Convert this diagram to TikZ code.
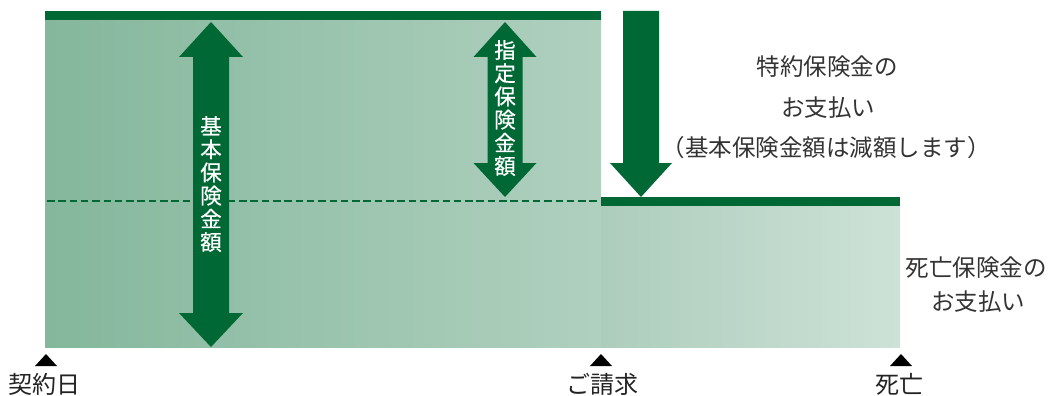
\documentclass[tikz,border=0pt]{standalone}
\usepackage{fontspec}
\setmainfont{Noto Sans CJK JP}
\newfontfamily\arrowfont[FakeBold=0.5]{Noto Sans CJK JP}
\begin{document}
\begin{tikzpicture}[x=1pt,y=-1pt,
  dkgreen/.style={fill=barcol,draw=none},
  vtext/.style={text=white,font=\arrowfont\fontsize{21.5}{23.2}\selectfont,align=center,inner sep=0pt},
  rtext/.style={text=txtcol,font=\fontsize{23.5}{38}\selectfont,align=center,inner sep=0pt},
  blabel/.style={text=lblcol,font=\fontsize{24}{28}\selectfont,inner sep=0pt},
  marker/.style={fill=black,draw=none}]
\definecolor{barcol}{RGB}{0,104,52}
\definecolor{txtcol}{RGB}{51,51,51}
\definecolor{lblcol}{RGB}{34,34,34}
\definecolor{gA}{RGB}{132,183,156}
\definecolor{gB}{RGB}{176,208,191}
\definecolor{gC}{RGB}{173,205,188}
\definecolor{gD}{RGB}{205,226,215}
\useasboundingbox (0,0) rectangle (1052,396);
% fills
\fill[left color=gA,right color=gB] (45,20) rectangle (601,347);
\fill[left color=gC,right color=gD] (601,206) rectangle (900,347);
% bars
\fill[dkgreen] (45,11) rectangle (601,20);
\fill[dkgreen] (601,197) rectangle (900,206);
% dashed line
\draw[barcol,line width=2.8pt,dash pattern=on 7.5pt off 3.8pt] (47,201) -- (601,201);
% big double arrow
\fill[dkgreen] (211,22) -- (243,57) -- (229,57) -- (229,313) -- (243,313) -- (211,347)
  -- (179,313) -- (193,313) -- (193,57) -- (179,57) -- cycle;
% small double arrow
\fill[dkgreen] (505,22) -- (536.5,57) -- (522.5,57) -- (522.5,163) -- (536.5,163) -- (505,197)
  -- (473.5,163) -- (487.5,163) -- (487.5,57) -- (473.5,57) -- cycle;
% down arrow
\fill[dkgreen] (623,11) -- (659,11) -- (659,163) -- (672,163) -- (641,197) -- (610,163) -- (623,163) -- cycle;
% vertical texts
\node[vtext] (kihon) at (211,184) {基\\本\\保\\険\\金\\額};
\node[vtext] (shitei) at (505,108) {指\\定\\保\\険\\金\\額};
% right texts
\node[rtext] (t1) at (827,67) {特約保険金の};
\node[rtext] (t2) at (828,108) {お支払い};
\node[rtext] (t3) at (826,148) {（基本保険金額は減額します）};
\node[rtext] (d1) at (976,268) {死亡保険金の};
\node[rtext] (d2) at (978,302) {お支払い};
% markers
\fill[marker] (46,354) -- (57,366) -- (35,366) -- cycle;
\fill[marker] (601,354) -- (612,366) -- (590,366) -- cycle;
\fill[marker] (901,354) -- (912,366) -- (890,366) -- cycle;
\node[blabel] (keiyaku) at (45,384) {契約日};
\node[blabel] (seikyu) at (602,384) {ご請求};
\node[blabel] (shibo) at (899,384) {死亡};
\end{tikzpicture}
\end{document}
